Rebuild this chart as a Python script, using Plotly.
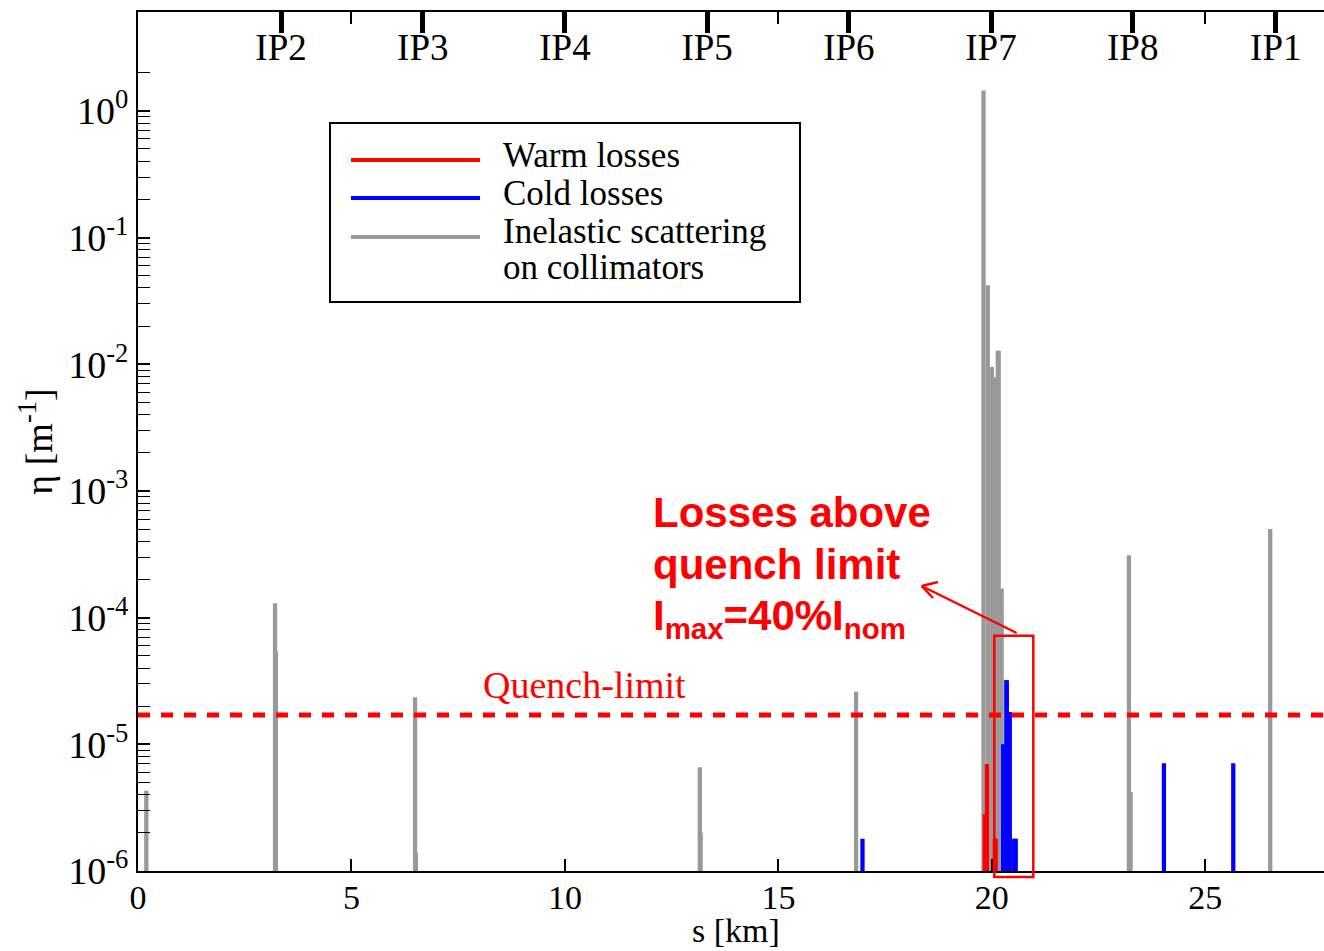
import plotly.graph_objects as go

# ---------------- data ----------------
# Inelastic scattering on collimators (grey)
gray_s = [0.195, 3.21, 3.23, 6.49, 6.51, 13.16, 13.18, 16.82,
          19.805, 19.905, 20.00, 20.07, 20.14, 20.16, 20.23,
          23.21, 23.25, 26.52]
gray_eta = [4.3e-6, 1.3e-4, 5.4e-5, 2.35e-5, 1.4e-6, 6.6e-6, 2.0e-6, 2.6e-5,
            1.45, 0.042, 0.0095, 0.0079, 0.0128, 0.0128, 1.7e-4,
            3.1e-4, 4.2e-6, 5.0e-4]

# Warm losses (red)
warm_s = [19.835, 19.885, 20.07, 20.09]
warm_eta = [2.8e-6, 7.0e-6, 1.8e-6, 1.8e-6]

# Cold losses (blue)
cold_s = [16.97, 20.265, 20.34, 20.35, 20.42, 20.52, 20.56, 24.03, 25.655]
cold_eta = [1.8e-6, 1.0e-5, 3.2e-5, 3.2e-5, 1.8e-5, 1.8e-6, 1.8e-6, 7.1e-6, 7.1e-6]

QUENCH_LIMIT = 1.7e-5

ip_labels = ["IP2", "IP3", "IP4", "IP5", "IP6", "IP7", "IP8", "IP1"]
ip_pos = [3.35, 6.67, 10.0, 13.33, 16.65, 19.98, 23.30, 26.65]

x_ticks = [0, 5, 10, 15, 20, 25]
y_ticks = [1e-6, 1e-5, 1e-4, 1e-3, 1e-2, 1e-1, 1]
y_ticktext = ["10<sup>-6</sup>", "10<sup>-5</sup>", "10<sup>-4</sup>", "10<sup>-3</sup>",
              "10<sup>-2</sup>", "10<sup>-1</sup>", "10<sup>0</sup>"]

X_MAX = 27.78
Y_RANGE = [-6, 0.78]

# ---------------- styles ----------------
SERIF = "Liberation Serif, Times New Roman, serif"
SANS = "Liberation Sans, Arial, sans-serif"
GRAY = "#999999"
RED = "#ff0000"
BLUE = "#0000ff"
BAR_W = 0.1

W, H = 1324, 951
ML, MR, MT, MB = 138, 0, 12, 80


def px(xp):
    return (xp - ML) / (W - ML - MR)


def py(yp):
    return (H - MB - yp) / (H - MB - MT)


fig = go.Figure()
fig.add_trace(go.Bar(x=gray_s, y=gray_eta, width=BAR_W, marker=dict(color=GRAY, line=dict(width=0)),
                     name="Inelastic scattering on collimators", showlegend=False))
fig.add_trace(go.Bar(x=warm_s, y=warm_eta, width=BAR_W, marker=dict(color=RED, line=dict(width=0)),
                     name="Warm losses", showlegend=False))
fig.add_trace(go.Bar(x=cold_s, y=cold_eta, width=BAR_W, marker=dict(color=BLUE, line=dict(width=0)),
                     name="Cold losses", showlegend=False))
# quench limit line
fig.add_trace(go.Scatter(x=[0, X_MAX], y=[QUENCH_LIMIT, QUENCH_LIMIT], mode="lines",
                         line=dict(color=RED, width=5, dash="12px,11px"), showlegend=False,
                         hoverinfo="skip"))
# dummy trace for top axis
fig.add_trace(go.Scatter(x=[None], y=[None], xaxis="x2", yaxis="y", showlegend=False))

minor_vals = [m * 10 ** e for e in range(-6, 1) for m in range(2, 10)]

fig.update_layout(
    width=W, height=H,
    margin=dict(l=ML, r=MR, t=MT, b=MB),
    plot_bgcolor="white", paper_bgcolor="white",
    barmode="overlay",
    showlegend=False,
    font=dict(family=SERIF, color="black"),
    xaxis=dict(range=[0, X_MAX], tickvals=x_ticks, ticks="inside", ticklen=12, tickwidth=1.5,
               tickcolor="black", showline=True, linecolor="black", linewidth=2, mirror="ticks",
               ticklabelstandoff=-5,
               showgrid=False, zeroline=False, tickfont=dict(family=SERIF, size=34, color="black")),
    xaxis2=dict(range=[0, X_MAX], overlaying="x", side="top", tickvals=ip_pos, ticktext=ip_labels,
                ticks="inside", ticklen=21, tickwidth=5, tickcolor="black",
                ticklabelposition="inside", ticklabelstandoff=6, showline=False, showgrid=False,
                zeroline=False, tickfont=dict(family=SERIF, size=37, color="black")),
    yaxis=dict(type="log", range=Y_RANGE, tickvals=y_ticks, ticktext=y_ticktext,
               ticks="inside", ticklen=12, tickwidth=1.5, tickcolor="black",
               showline=True, linecolor="black", linewidth=2, mirror=False,
               showgrid=False, zeroline=False, tickfont=dict(family=SERIF, size=38, color="black"),
               minor=dict(tickmode="array", tickvals=minor_vals, ticks="inside", ticklen=12,
                          tickwidth=1, tickcolor="black", showgrid=False),
               title=dict(text="η [m<sup>-1</sup>]", font=dict(family=SERIF, size=38, color="black"),
                          standoff=4)),
)

shapes = []
# legend box
shapes.append(dict(type="rect", xref="paper", yref="paper", x0=px(330), x1=px(800), y0=py(302), y1=py(123),
                   line=dict(color="black", width=2), fillcolor="white", layer="above"))
for yy, col in [(160, RED), (198, BLUE), (237, GRAY)]:
    shapes.append(dict(type="line", xref="paper", yref="paper", x0=px(351), x1=px(480), y0=py(yy), y1=py(yy),
                       line=dict(color=col, width=4), layer="above"))
# red box
shapes.append(dict(type="rect", xref="paper", yref="paper", x0=px(994.3), x1=px(1033.3), y0=py(877), y1=py(635.7),
                   line=dict(color=RED, width=2.5), layer="above"))
# arrow
tip = (921.7, 586)
for a, b in [((1016.7, 633), tip), (tip, (938, 582)), (tip, (933, 598))]:
    shapes.append(dict(type="line", xref="paper", yref="paper", x0=px(a[0]), y0=py(a[1]), x1=px(b[0]), y1=py(b[1]),
                       line=dict(color=RED, width=2.5), layer="above"))
fig.update_layout(shapes=shapes)

annots = []
for yy, txt in [(155, "Warm losses"), (193, "Cold losses"), (232, "Inelastic scattering"), (267, "on collimators")]:
    annots.append(dict(xref="paper", yref="paper", x=px(501), y=py(yy), text=txt, showarrow=False,
                       xanchor="left", yanchor="middle", font=dict(family=SERIF, size=35, color="black")))
annots.append(dict(xref="paper", yref="paper", x=px(584), y=py(685), text="Quench-limit", showarrow=False,
                   xanchor="center", yanchor="middle", font=dict(family=SERIF, size=38, color=RED)))
for yy, txt in [(487, "<b>Losses above</b>"), (539, "<b>quench limit</b>"),
                (590, "<b>I<sub>max</sub>=40%I<sub>nom</sub></b>")]:
    annots.append(dict(xref="paper", yref="paper", x=px(651), y=py(yy), text=txt,
                       showarrow=False, xanchor="left", yanchor="top", align="left",
                       font=dict(family=SANS, size=42, color=RED)))
# x-axis title
annots.append(dict(xref="paper", yref="paper", x=px(736), y=py(950), text="s [km]", showarrow=False,
                   xanchor="center", yanchor="bottom", borderpad=0,
                   font=dict(family=SERIF, size=34, color="black")))
fig.update_layout(annotations=annots)

fig.write_html("out.html")
